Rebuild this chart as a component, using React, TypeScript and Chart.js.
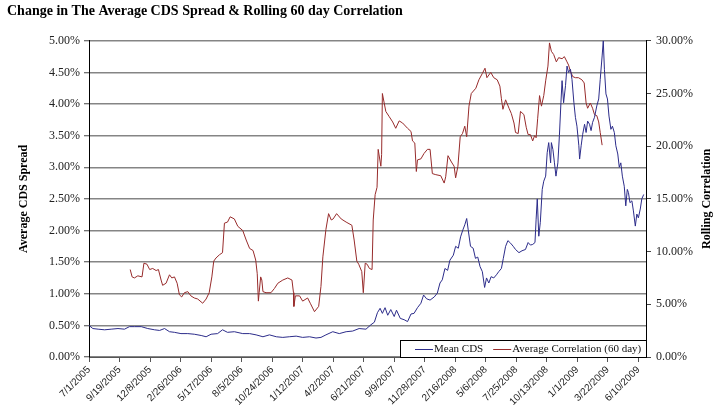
import { useEffect, useRef } from 'react';
import { Chart, registerables } from 'chart.js';

Chart.register(...registerables);

const TITLE = 'Change in The Average CDS Spread & Rolling 60 day Correlation';
const LEFT_TITLE = 'Average CDS Spread';
const RIGHT_TITLE = 'Rolling Correlation';
const START_DATE = '7/1/2005';
const END_DATE = '6/30/2009';

const xTickLabels = [
  '7/1/2005', '9/19/2005', '12/8/2005', '2/26/2006', '5/17/2006', '8/5/2006',
  '10/24/2006', '1/12/2007', '4/2/2007', '6/21/2007', '9/9/2007', '11/28/2007',
  '2/16/2008', '5/6/2008', '7/25/2008', '10/13/2008', '1/1/2009', '3/22/2009', '6/10/2009',
];

// Mean CDS (left axis, %), sampled by days since 7/1/2005
const cdsDays = [
  0, 10, 24, 41, 58, 76, 93, 106, 119, 137, 154, 172, 185, 198, 211, 224, 241, 259, 276, 294,
  307, 320, 337, 350, 363, 381, 403, 421, 438, 456, 473, 491, 508, 525, 543, 560, 578, 595, 608, 621,
  639, 656, 674, 691, 708, 726, 739, 748, 756, 763, 769, 776, 783, 791, 800, 806, 816, 826, 835, 844,
  852, 861, 870, 877, 885, 894, 905, 913, 920, 926, 933, 940, 946, 955, 961, 968, 974, 980, 985, 990,
  994, 1000, 1007, 1013, 1019, 1025, 1031, 1037, 1042, 1048, 1054, 1061, 1068, 1074, 1081, 1086, 1092, 1098, 1105, 1112,
  1118, 1127, 1135, 1144, 1151, 1157, 1163, 1169, 1172, 1175, 1179, 1183, 1188, 1192, 1197, 1201, 1205, 1210, 1212, 1216,
  1220, 1224, 1229, 1233, 1237, 1240, 1244, 1249, 1253, 1257, 1262, 1266, 1271, 1275, 1279, 1284, 1286, 1290, 1294, 1299,
  1303, 1307, 1312, 1316, 1320, 1325, 1331, 1336, 1340, 1345, 1348, 1351, 1355, 1359, 1363, 1368, 1372, 1377, 1381, 1386,
  1390, 1394, 1398, 1403, 1407, 1411, 1414, 1418, 1423, 1427, 1432, 1436, 1440, 1445, 1449, 1454,
];
const cdsValues = [
  0.50, 0.45, 0.44, 0.43, 0.44, 0.45, 0.44, 0.48, 0.48, 0.48, 0.45, 0.43, 0.42, 0.45, 0.40, 0.39, 0.37, 0.37, 0.36, 0.34,
  0.32, 0.36, 0.37, 0.43, 0.39, 0.40, 0.37, 0.37, 0.35, 0.32, 0.35, 0.32, 0.31, 0.32, 0.33, 0.31, 0.32, 0.30, 0.31, 0.35,
  0.40, 0.37, 0.40, 0.41, 0.45, 0.44, 0.51, 0.55, 0.70, 0.77, 0.69, 0.78, 0.66, 0.75, 0.64, 0.74, 0.61, 0.59, 0.56, 0.68,
  0.69, 0.78, 0.85, 0.98, 0.92, 0.90, 0.95, 1.01, 1.17, 1.22, 1.40, 1.37, 1.53, 1.61, 1.75, 1.72, 1.90, 2.01, 2.09, 2.19,
  2.01, 1.75, 1.72, 1.56, 1.58, 1.43, 1.35, 1.10, 1.25, 1.17, 1.27, 1.25, 1.30, 1.35, 1.40, 1.56, 1.75, 1.84, 1.80, 1.75,
  1.70, 1.65, 1.68, 1.70, 1.81, 1.77, 1.78, 1.81, 2.18, 2.50, 1.91, 2.13, 2.65, 2.78, 2.86, 3.23, 3.39, 3.07, 3.39, 3.28,
  3.07, 2.86, 3.07, 3.50, 4.02, 4.37, 4.02, 4.29, 4.60, 4.50, 4.55, 4.39, 4.02, 3.79, 3.65, 3.34, 3.13, 3.34, 3.52, 3.68,
  3.55, 3.73, 3.68, 3.58, 3.71, 3.79, 3.97, 4.08, 4.39, 4.76, 5.00, 4.55, 4.16, 4.08, 3.81, 3.60, 3.65, 3.55, 3.34, 3.21,
  3.00, 3.07, 2.86, 2.70, 2.39, 2.65, 2.60, 2.44, 2.47, 2.31, 2.07, 2.26, 2.20, 2.34, 2.50, 2.57,
];

// Average Correlation (60 day) (right axis, %), sampled by days since 7/1/2005
const corrDays = [
  108, 113, 119, 128, 139, 144, 152, 159, 167, 176, 182, 189, 193, 202, 211, 217, 224, 231, 237, 243,
  250, 259, 267, 276, 285, 298, 307, 315, 322, 327, 333, 342, 350, 355, 363, 370, 381, 390, 403, 412,
  421, 430, 437, 441, 444, 446, 450, 453, 456, 464, 477, 486, 495, 508, 521, 532, 536, 537, 541, 552,
  560, 573, 580, 591, 602, 608, 613, 621, 628, 635, 640, 649, 661, 674, 689, 695, 702, 707, 715, 719,
  724, 729, 735, 742, 745, 750, 755, 758, 765, 767, 769, 778, 787, 796, 804, 813, 822, 835, 844, 848,
  854, 858, 861, 870, 878, 887, 894, 900, 909, 922, 931, 935, 941, 950, 957, 961, 967, 973, 979, 985,
  990, 996, 1002, 1014, 1022, 1031, 1038, 1043, 1053, 1061, 1070, 1077, 1081, 1085, 1092, 1101, 1107, 1114, 1118, 1125,
  1131, 1140, 1146, 1151, 1157, 1163, 1168, 1172, 1176, 1181, 1186, 1192, 1197, 1203, 1207, 1212, 1218, 1225, 1231, 1240,
  1246, 1253, 1257, 1262, 1268, 1275, 1283, 1292, 1298, 1303, 1307, 1314, 1320, 1325, 1331, 1336, 1340, 1345,
];
const corrValues = [
  8.3, 7.6, 7.5, 7.7, 7.6, 8.9, 8.8, 8.3, 8.4, 8.2, 8.3, 7.3, 6.8, 7.0, 7.8, 7.5, 7.6, 7.0, 5.9, 5.7,
  6.1, 6.2, 5.8, 5.6, 5.5, 5.1, 5.5, 6.1, 7.6, 9.1, 9.4, 9.7, 9.9, 12.7, 12.8, 13.3, 13.1, 12.4, 12.0, 11.1,
  10.3, 10.1, 9.2, 7.9, 5.3, 6.1, 7.6, 7.3, 6.2, 6.1, 6.1, 6.5, 7.0, 7.3, 7.5, 7.3, 6.1, 4.8, 5.8, 5.8,
  5.3, 5.6, 5.1, 4.3, 4.8, 6.7, 9.5, 12.1, 13.6, 13.0, 13.1, 13.6, 13.1, 12.8, 12.5, 11.1, 9.1, 8.8, 8.1, 6.1,
  8.9, 8.8, 8.4, 8.3, 13.0, 15.4, 16.1, 19.7, 18.1, 19.2, 25.0, 23.3, 22.8, 22.3, 21.7, 22.4, 22.2, 21.7, 21.4, 20.5,
  20.3, 17.6, 18.7, 18.8, 19.3, 19.7, 19.7, 17.4, 17.3, 17.2, 16.5, 17.1, 19.1, 18.5, 18.1, 17.0, 18.1, 20.9, 21.2, 21.9,
  20.9, 23.8, 25.0, 25.5, 26.3, 26.9, 27.4, 26.5, 27.0, 26.5, 26.3, 25.7, 24.5, 23.5, 24.4, 23.6, 23.1, 22.2, 21.3, 21.2,
  23.3, 23.0, 21.8, 21.1, 21.1, 20.5, 21.0, 20.8, 22.6, 24.8, 23.8, 24.8, 26.2, 27.6, 29.8, 29.0, 28.7, 28.0, 28.4, 28.3,
  28.5, 28.0, 27.7, 27.1, 26.6, 26.5, 26.5, 26.3, 26.0, 24.1, 23.6, 24.1, 23.6, 23.0, 22.9, 22.3, 21.3, 20.1,
];

const SERIES_LABELS = ['Mean CDS', 'Average Correlation (60 day)'];
const CDS_COLOR = '#2c2c8a';
const CORR_COLOR = '#972b2b';

function dayOffset(s: string): number {
  const [m, d, y] = s.split('/').map(Number);
  const [m0, d0, y0] = START_DATE.split('/').map(Number);
  return Math.round((Date.UTC(y, m - 1, d) - Date.UTC(y0, m0 - 1, d0)) / 86400000);
}

const SERIF = '"Liberation Serif", "Times New Roman", serif';
const SANS = '"Liberation Sans", Arial, sans-serif';

const boxLegend = {
  id: 'boxLegend',
  afterDatasetsDraw(chart: any) {
    const { ctx, chartArea } = chart;
    const w = 246;
    const h = 17;
    const x0 = Math.round(chartArea.right - w);
    const y0 = Math.round(chartArea.bottom - h);
    ctx.save();
    ctx.fillStyle = '#ffffff';
    ctx.fillRect(x0, y0, w, h);
    ctx.strokeStyle = '#000000';
    ctx.lineWidth = 1;
    ctx.strokeRect(x0 + 0.5, y0 + 0.5, w, h);
    ctx.font = `11px ${SERIF}`;
    ctx.textBaseline = 'middle';
    ctx.textAlign = 'left';
    const cy = y0 + h / 2 + 0.5;
    let x = x0 + 15;
    chart.data.datasets.forEach((ds: any) => {
      ctx.strokeStyle = ds.borderColor;
      ctx.beginPath();
      ctx.moveTo(x, Math.round(cy) + 0.5);
      ctx.lineTo(x + 18, Math.round(cy) + 0.5);
      ctx.stroke();
      x += 19;
      ctx.fillStyle = '#111111';
      ctx.fillText(ds.label, x, cy);
      x += ctx.measureText(ds.label).width + 10;
    });
    ctx.restore();
  },
};

const axisTitles = {
  id: 'axisTitles',
  afterDraw(chart: any) {
    const { ctx, chartArea } = chart;
    const cy = (chartArea.top + chartArea.bottom) / 2;
    ctx.save();
    ctx.font = `bold 12px ${SERIF}`;
    ctx.fillStyle = '#000000';
    ctx.textAlign = 'center';
    ctx.textBaseline = 'middle';
    ctx.translate(24, cy);
    ctx.rotate(-Math.PI / 2);
    ctx.fillText(LEFT_TITLE, 0, 0);
    ctx.restore();
    ctx.save();
    ctx.font = `bold 12px ${SERIF}`;
    ctx.fillStyle = '#000000';
    ctx.textAlign = 'center';
    ctx.textBaseline = 'middle';
    ctx.translate(707, cy);
    ctx.rotate(-Math.PI / 2);
    ctx.fillText(RIGHT_TITLE, 0, 0);
    ctx.restore();
  },
};

export default function App() {
  const canvasRef = useRef<HTMLCanvasElement | null>(null);

  useEffect(() => {
    if (!canvasRef.current) return;
    const chart = new Chart(canvasRef.current, {
      type: 'line',
      data: {
        datasets: [
          {
            label: SERIES_LABELS[0],
            data: cdsDays.map((d, i) => ({ x: d, y: cdsValues[i] })),
            borderColor: CDS_COLOR,
            borderWidth: 1,
            pointRadius: 0,
            tension: 0,
            yAxisID: 'y',
          },
          {
            label: SERIES_LABELS[1],
            data: corrDays.map((d, i) => ({ x: d, y: corrValues[i] })),
            borderColor: CORR_COLOR,
            borderWidth: 1,
            pointRadius: 0,
            tension: 0,
            yAxisID: 'y1',
          },
        ],
      },
      options: {
        animation: false,
        responsive: false,
        devicePixelRatio: 1,
        layout: { padding: { left: 7, right: 0, top: 0, bottom: 0 } },
        plugins: {
          legend: { display: false },
          tooltip: { enabled: false },
          title: {
            display: true,
            text: TITLE,
            align: 'start',
            color: '#000000',
            font: { family: SERIF, size: 14, weight: 'bold' },
            padding: { top: 3, bottom: 21 },
          },
        },
        scales: {
          x: {
            type: 'linear',
            min: 0,
            max: dayOffset(END_DATE),
            afterBuildTicks: (axis: any) => {
              axis.ticks = xTickLabels.map((l) => ({ value: dayOffset(l) }));
            },
            afterFit: (s: any) => {
              s.height = 59;
            },
            ticks: {
              autoSkip: false,
              minRotation: 45,
              maxRotation: 45,
              padding: 2,
              color: '#222222',
              font: { family: SANS, size: 10 },
              callback: (_v: any, i: number) => xTickLabels[i],
            },
            grid: { drawOnChartArea: false, drawTicks: true, tickLength: 5, color: '#555555' },
            border: { color: '#555555', width: 1 },
          },
          y: {
            position: 'left',
            min: 0,
            max: 5,
            afterFit: (s: any) => {
              s.width = 82;
            },
            ticks: {
              stepSize: 0.5,
              padding: 4,
              color: '#222222',
              font: { family: SERIF, size: 12 },
              callback: (v: any) => Number(v).toFixed(2) + '%',
            },
            grid: { color: '#858585', lineWidth: 1.5, tickLength: 5, tickColor: '#444444', tickWidth: 1 },
            border: { color: '#000000', width: 1 },
          },
          y1: {
            position: 'right',
            min: 0,
            max: 30,
            afterFit: (s: any) => {
              s.width = 74;
            },
            ticks: {
              stepSize: 5,
              padding: 5,
              color: '#222222',
              font: { family: SERIF, size: 12 },
              callback: (v: any) => Number(v).toFixed(2) + '%',
            },
            grid: { drawOnChartArea: false, tickLength: 5, color: '#444444' },
            border: { color: '#000000', width: 1 },
          },
        },
      },
      plugins: [boxLegend, axisTitles],
    });
    return () => chart.destroy();
  }, []);

  return (
    <div style={{ position: 'fixed', left: 0, top: 0, width: 720, height: 416, background: '#ffffff' }}>
      <canvas ref={canvasRef} width={720} height={416} />
    </div>
  );
}
